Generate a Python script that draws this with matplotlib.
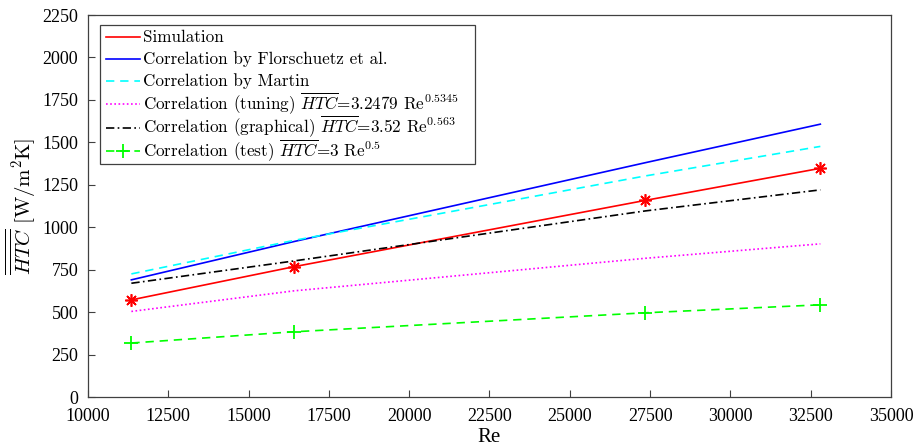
import matplotlib
matplotlib.use("Agg")
import matplotlib.pyplot as plt
from matplotlib.patches import Rectangle

plt.rcParams["mathtext.fontset"] = "cm"

# Values.
re = [11350, 16400, 27350, 32800]
simulation = [572, 767, 1158, 1347]
florschuetz = [690, 915, 1380, 1607]
martin = [725, 922, 1302, 1476]
tuning = [504, 625, 817, 902]
graphical = [670, 801, 1096, 1220]
test = [318, 384, 496, 543]

labels = [
    "Simulation",
    "Correlation by Florschuetz et al.",
    "Correlation by Martin",
    r"Correlation (tuning) $\overline{HTC}$=3.2479 Re$^{0.5345}$",
    r"Correlation (graphical) $\overline{HTC}$=3.52 Re$^{0.563}$",
    r"Correlation (test) $\overline{HTC}$=3 Re$^{0.5}$",
]

xticks = list(range(10000, 35001, 2500))
yticks = list(range(0, 2251, 250))

# line styles (matlab look)
styles = [
    dict(color="#ff0000", ls="-"),
    dict(color="#0000ff", ls="-"),
    dict(color="#00ffff", ls=(0, (5, 3.5))),
    dict(color="#ff00ff", ls=(0, (1, 1.5))),
    dict(color="black", ls=(0, (5, 2, 1, 2))),
    dict(color="#00ff00", ls=(0, (5, 3.5))),
]
markers = [dict(marker=(8, 2, 0), ms=9, mew=1.2), {}, {}, {}, {},
           dict(marker="+", ms=10, mew=1.3)]
series = [simulation, florschuetz, martin, tuning, graphical, test]

fig = plt.figure(figsize=(9.14, 4.48), dpi=100)
# axes box in pixels: x 88..891, y 15..397
ax = fig.add_axes([88 / 914, 51 / 448, 803 / 914, 382 / 448])

for vals, st, mk in zip(series, styles, markers):
    ax.plot(re, vals, lw=1.2, **st, **mk)

ax.set_xlim(10000, 35000)
ax.set_ylim(0, 2250)
ax.set_xticks(xticks)
ax.set_yticks(yticks)
ax.tick_params(direction="in", length=5, width=0.8, color="#404040",
               labelsize=13)
ax.tick_params(axis="y", pad=7)
ax.tick_params(axis="x", pad=8)
for lab in ax.get_xticklabels() + ax.get_yticklabels():
    lab.set_family("Liberation Serif")
for sp in ax.spines.values():
    sp.set_color("#404040")
    sp.set_linewidth(0.9)

ax.set_xlabel("Re", fontsize=15, family="Liberation Serif", labelpad=2)
ax.set_ylabel(r"$\overline{\overline{HTC}}$ [W/m$^2$K]", fontsize=15,
              family="cmr10", labelpad=3)


# legend drawn by hand so the rows keep an even spacing
def px(x, y):
    return (x - 88) / 803, (397 - y) / 382


x0, y0 = px(100, 164)
x1, y1 = px(475, 25)
ax.add_patch(Rectangle((x0, y0), x1 - x0, y1 - y0, transform=ax.transAxes,
                       facecolor="white", edgecolor="#404040", lw=0.9,
                       zorder=5, clip_on=False))
rows = [37.5, 59.5, 81.5, 104.5, 128, 151.5]
for i, (lab, st) in enumerate(zip(labels, styles)):
    ya = px(0, rows[i])[1]
    xa, xb = px(106, 0)[0], px(140, 0)[0]
    ax.plot([xa, xb], [ya, ya], lw=1.2, transform=ax.transAxes,
            zorder=6, clip_on=False, **st)
    if i == 5:
        ax.plot([(xa + xb) / 2], [ya], transform=ax.transAxes, zorder=6,
                clip_on=False, color=st["color"], marker="+", ms=10, mew=1.3)
    tx, ty = px(143, rows[i] + 4.5)
    ax.text(tx, ty, lab, transform=ax.transAxes, family="cmr10",
            fontsize=12.3, va="baseline", ha="left", zorder=7)

fig.savefig("out.png", dpi=100)
